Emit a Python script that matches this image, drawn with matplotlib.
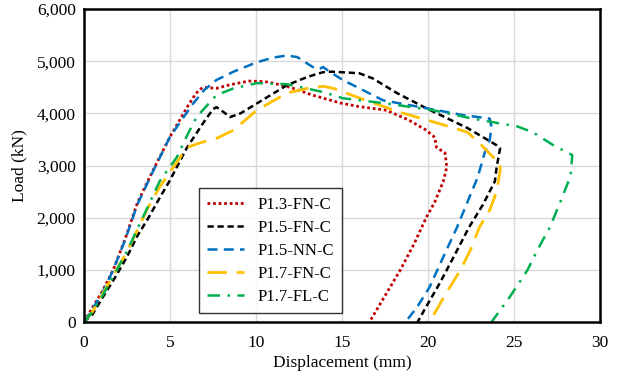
import matplotlib
matplotlib.use("Agg")
import matplotlib.pyplot as plt
from matplotlib.ticker import FuncFormatter

# load-displacement curves
red_x = [0, 0.5, 1.1, 1.7, 2.4, 3.1, 4.0, 4.4, 5.0, 6.0, 6.5, 6.9, 7.3, 7.7, 8.5,
         9.6, 10.5, 11.0, 12.0, 13.3, 14.9, 16.0, 17.6, 18.9, 19.9, 20.4, 20.5,
         21.0, 21.1, 20.9, 20.4, 19.9, 19.2, 18.4, 17.5, 16.6]
red_y = [0, 280, 610, 1000, 1600, 2280, 2900, 3160, 3550, 4120, 4380, 4500, 4490,
         4480, 4550, 4620, 4610, 4580, 4500, 4350, 4200, 4130, 4060, 3870, 3680,
         3540, 3350, 3240, 2970, 2700, 2300, 2000, 1500, 1000, 500, 0]

black_x = [0, 0.5, 1.1, 1.8, 2.5, 3.1, 3.7, 4.4, 5.0, 6.0, 6.9, 7.5, 7.7, 8.1,
           8.5, 9.1, 10.05, 11.8, 13.0, 13.9, 14.4, 16.0, 16.8, 18.2, 19.9, 22.3,
           24.0, 24.2, 24.0, 23.9, 23.2, 22.4, 21.5, 20.7, 20.0, 19.4]
black_y = [0, 150, 480, 850, 1250, 1650, 1970, 2380, 2720, 3350, 3800, 4080, 4120,
           4030, 3930, 4000, 4190, 4540, 4700, 4790, 4800, 4770, 4670, 4390, 4100,
           3720, 3390, 3330, 2970, 2700, 2250, 1820, 1250, 750, 350, 0]

blue_x = [0, 0.5, 1.1, 1.7, 2.4, 3.1, 4.0, 5.0, 6.35, 7.0, 7.7, 8.7, 10.05, 11.0,
          11.8, 12.4, 13.3, 13.7, 13.9, 14.2, 15.0, 17.4, 19.9, 22.0, 23.6, 23.7,
          23.6, 23.3, 22.9, 22.3, 21.7, 20.9, 20.1, 19.4, 18.7]
blue_y = [0, 250, 580, 1000, 1580, 2250, 2880, 3550, 4190, 4450, 4640, 4800, 4980,
          5070, 5110, 5080, 4890, 4850, 4890, 4820, 4650, 4250, 4100, 3970, 3900,
          3740, 3490, 3240, 2780, 2300, 1820, 1250, 670, 300, 0]

yellow_x = [0, 0.5, 1.1, 1.8, 2.5, 3.1, 3.7, 4.4, 5.2, 6.0, 6.9, 7.7, 8.7, 10.05,
            11.8, 13.0, 13.9, 14.5, 16.4, 18.4, 20.7, 22.3, 23.0, 23.8, 24.2, 24.2,
            24.0, 23.6, 23.0, 22.5, 21.9, 21.0, 20.1]
yellow_y = [0, 200, 550, 950, 1350, 1760, 2180, 2590, 2970, 3350, 3450, 3520, 3680,
            4060, 4390, 4480, 4520, 4480, 4250, 4020, 3800, 3640, 3430, 3160, 3050,
            2900, 2500, 2150, 1820, 1400, 1000, 520, 0]

green_x = [0, 0.5, 1.1, 1.8, 2.5, 3.1, 3.7, 4.4, 5.4, 6.0, 6.55, 7.7, 8.7, 10.05,
           11.8, 13.9, 15.06, 17.6, 20.3, 22.6, 25.2, 26.1, 27.3, 28.4, 28.3, 27.7,
           27.1, 26.4, 25.8, 24.8, 23.7]
green_y = [0, 200, 520, 930, 1360, 1780, 2200, 2700, 3160, 3580, 3930, 4350, 4480,
           4580, 4560, 4410, 4290, 4190, 4060, 3900, 3750, 3640, 3390, 3200, 2800,
           2300, 1820, 1400, 1000, 500, 0]

labels = ["P1.3-FN-C", "P1.5-FN-C", "P1.5-NN-C", "P1.7-FN-C", "P1.7-FL-C"]

plt.rcParams["font.family"] = ["Liberation Serif", "DejaVu Serif"]

fig = plt.figure(figsize=(6.19, 3.78), dpi=100)
ax = fig.add_axes([0.1357, 0.148, 0.8333, 0.828])

ax.plot(red_x, red_y, color="#C00000", lw=2.0, ls=(0, (1, 1)), label=labels[0])
ax.plot(black_x, black_y, color="black", lw=1.8, ls=(0, (2.5, 1.5)), label=labels[1])
ax.plot(blue_x, blue_y, color="#0070C0", lw=1.8, ls=(0, (4, 2.5)), label=labels[2])
ax.plot(yellow_x, yellow_y, color="#FFC000", lw=2.0, ls=(0, (7, 3.5)), label=labels[3])
ax.plot(green_x, green_y, color="#00B050", lw=1.8, ls=(0, (5, 3, 1, 3)), label=labels[4])

ax.set_xlim(0, 30)
ax.set_ylim(0, 6000)
ax.set_xticks(range(0, 31, 5))
ax.set_yticks(range(0, 6001, 1000))
ax.yaxis.set_major_formatter(FuncFormatter(lambda v, p: f"{int(v):,}"))
ax.grid(True, color="#D9D9D9", lw=1.0)
ax.set_axisbelow(True)
ax.tick_params(length=0, labelsize=12.5)
ax.tick_params(axis="x", pad=9)
ax.tick_params(axis="y", pad=6)
for s in ax.spines.values():
    s.set_linewidth(1.8)

ax.set_xlabel("Displacement (mm)", fontsize=12.5, labelpad=3)
ax.set_ylabel("Load (kN)", fontsize=12.5, labelpad=7)

leg = ax.legend(loc="lower left", bbox_to_anchor=(0.223, 0.029), borderaxespad=0,
                fontsize=12, frameon=True, fancybox=False, handlelength=2.2,
                borderpad=0.5, labelspacing=0.42, handletextpad=0.8)
leg.get_frame().set_edgecolor("black")
leg.get_frame().set_linewidth(1.0)

fig.savefig("out.png", dpi=100)
